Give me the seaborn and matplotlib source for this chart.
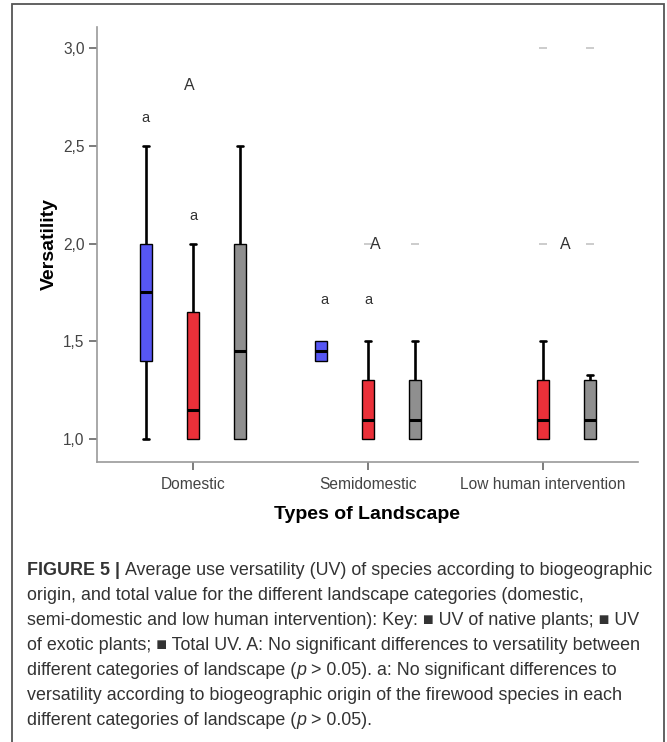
import numpy as np
import pandas as pd
import matplotlib
matplotlib.use("Agg")
import matplotlib.pyplot as plt
from matplotlib import font_manager as fm
from matplotlib.patches import Rectangle
import seaborn as sns

# ---------------- data ----------------
categories = ["Domestic", "Semidomestic", "Low human intervention"]
origins = ["Native", "Exotic", "Total"]
palette = ["#5656f4", "#ea3039", "#8f8f8f"]

# observations (use versatility per species) for each landscape / origin
domestic_native = [1.0, 1.4, 1.75, 2.0, 2.5]
domestic_exotic = [1.0, 1.0, 1.15, 1.65, 2.0]
domestic_total = [1.0, 1.0, 1.45, 2.0, 2.5]
semidomestic_native = [1.4, 1.4, 1.45, 1.5, 1.5]
semidomestic_exotic = [1.0, 1.0, 1.0, 1.05, 1.1, 1.2, 1.3, 1.5, 2.0]
semidomestic_total = [1.0, 1.0, 1.0, 1.05, 1.1, 1.2, 1.3, 1.5, 2.0]
low_exotic = [1.0, 1.0, 1.0, 1.0, 1.0, 1.05, 1.1, 1.2, 1.25, 1.3, 1.5, 2.0, 3.0]
low_total = [1.0, 1.0, 1.0, 1.0, 1.0, 1.05, 1.1, 1.2, 1.25, 1.3, 1.33, 2.0, 3.0]

ytick_values = [1.0, 1.5, 2.0, 2.5, 3.0]
ytick_labels = ["1,0", "1,5", "2,0", "2,5", "3,0"]

# significance letters: text, category index, offset within group, value
annot_text = ["a", "A", "a", "a", "a", "A", "A"]
annot_cat = [0, 0, 0, 1, 1, 1, 2]
annot_dx = [-0.27, -0.02, 0.0, -0.25, 0.0, 0.04, 0.13]
annot_y = [2.64, 2.81, 2.14, 1.71, 1.71, 1.995, 1.995]

caption_lines = [
    [("FIGURE 5 | ", "bold", "normal"),
     ("Average use versatility (UV) of species according to biogeographic", "normal", "normal")],
    [("origin, and total value for the different landscape categories (domestic,", "normal", "normal")],
    [("semi-domestic and low human intervention): Key: \u25A0 UV of native plants; \u25A0 UV", "normal", "normal")],
    [("of exotic plants; \u25A0 Total UV. A: No significant differences to versatility between", "normal", "normal")],
    [("different categories of landscape (", "normal", "normal"), ("p ", "normal", "italic"),
     ("> 0.05). a: No significant differences to", "normal", "normal")],
    [("versatility according to biogeographic origin of the firewood species in each", "normal", "normal")],
    [("different categories of landscape (", "normal", "normal"), ("p ", "normal", "italic"),
     ("> 0.05).", "normal", "normal")],
]

# ---------------- build table ----------------
groups = [
    ("Domestic", "Native", domestic_native),
    ("Domestic", "Exotic", domestic_exotic),
    ("Domestic", "Total", domestic_total),
    ("Semidomestic", "Native", semidomestic_native),
    ("Semidomestic", "Exotic", semidomestic_exotic),
    ("Semidomestic", "Total", semidomestic_total),
    ("Low human intervention", "Exotic", low_exotic),
    ("Low human intervention", "Total", low_total),
]
rows = []
for land, orig, vals in groups:
    for v in vals:
        rows.append({"Landscape": land, "Origin": orig, "Versatility": v})
df = pd.DataFrame(rows)

# ---------------- style ----------------
sns.set_style("white")
plt.rcParams["font.family"] = ["Liberation Sans", "DejaVu Sans"]

W, H = 667, 742
fig = plt.figure(figsize=(W / 100, H / 100), dpi=100)
ax = fig.add_axes([97 / W, 1 - 462 / H, (638 - 97) / W, (462 - 27) / H])

sns.boxplot(
    data=df, x="Landscape", y="Versatility", hue="Origin",
    order=categories, hue_order=origins, palette=palette,
    width=0.807, gap=0.745, dodge=True, saturation=1,
    linecolor="black", linewidth=1.0,
    whiskerprops=dict(linewidth=1.9),
    capprops=dict(linewidth=1.9),
    medianprops=dict(linewidth=2.2, color="black"),
    flierprops=dict(marker="_", markersize=6, markeredgecolor="#c4c4c4",
                    markerfacecolor="#c4c4c4", markeredgewidth=1.2),
    legend=False, ax=ax,
)

# hide caps that sit on zero-length whiskers (SPSS draws none there)
lines = list(ax.lines)
zero_pts = []
for ln in lines:
    xd, yd = np.asarray(ln.get_xdata(), float), np.asarray(ln.get_ydata(), float)
    if len(xd) == 2 and np.isclose(xd[0], xd[1]) and np.isclose(yd[0], yd[1]):
        zero_pts.append((xd[0], yd[0]))
for ln in lines:
    xd, yd = np.asarray(ln.get_xdata(), float), np.asarray(ln.get_ydata(), float)
    if len(xd) == 2 and not np.isclose(xd[0], xd[1]) and np.isclose(yd[0], yd[1]):
        cx = xd.mean()
        for zx, zy in zero_pts:
            if np.isclose(cx, zx) and np.isclose(yd[0], zy):
                ln.set_visible(False)

for t, c, dx, yv in zip(annot_text, annot_cat, annot_dx, annot_y):
    ax.text(c + dx, yv, t, ha="center", va="center",
            fontsize=10.5 if t == "a" else 11.5, color="#333333")

ax.set_xlim(-0.549, 2.543)
ax.set_ylim(0.883, 3.107)
ax.set_yticks(ytick_values)
ax.set_yticklabels(ytick_labels)
ax.set_xlabel("Types of Landscape", fontsize=14, fontweight="bold", color="black", labelpad=10)
ax.set_ylabel("Versatility", fontsize=14, fontweight="bold", color="black", labelpad=4)
for s in ["top", "right"]:
    ax.spines[s].set_visible(False)
for s in ["left", "bottom"]:
    ax.spines[s].set_color("#9a9a9a")
    ax.spines[s].set_linewidth(1.2)
ax.tick_params(axis="both", direction="out", length=6, width=1.2, color="#666666",
               labelcolor="#444444", labelsize=11.2, pad=3, bottom=True, left=True)
ax.tick_params(axis="x", pad=5)

# ---------------- outer frame ----------------
fig.add_artist(Rectangle((12 / W, -0.02), (664 - 12) / W, 1.02 - 4 / H,
                         transform=fig.transFigure, fill=False,
                         edgecolor="#555555", linewidth=1.3))

# ---------------- caption ----------------
def has_font(name):
    try:
        fm.findfont(fm.FontProperties(family=name), fallback_to_default=False)
        return True
    except Exception:
        return False

cap_family = "Liberation Sans Narrow" if has_font("Liberation Sans Narrow") else "Liberation Sans"
cap_fams = [cap_family, "DejaVu Sans"]
renderer = fig.canvas.get_renderer()


def seg_width(s, size, weight, style):
    core = s.rstrip(" ")
    ntrail = len(s) - len(core)
    t = fig.text(0, 0, core, fontsize=size, fontweight=weight, fontstyle=style, family=cap_fams)
    w = t.get_window_extent(renderer).width if core else 0
    t.remove()
    if ntrail:
        t1 = fig.text(0, 0, "a a", fontsize=size, fontweight=weight, fontstyle=style, family=cap_fams)
        t2 = fig.text(0, 0, "aa", fontsize=size, fontweight=weight, fontstyle=style, family=cap_fams)
        sp = t1.get_window_extent(renderer).width - t2.get_window_extent(renderer).width
        t1.remove(); t2.remove()
        w += ntrail * sp
    return w


def line_width(line, size):
    return sum(seg_width(s, size, w, st) for s, w, st in line)

trial = 12.0
target = 652 - 27
size = trial * target / line_width(caption_lines[0], trial)

y0 = 575
dy = 25
for i, line in enumerate(caption_lines):
    x = 27
    ypx = y0 + i * dy
    for s, w, st in line:
        fig.text(x / W, 1 - ypx / H, s, fontsize=size, fontweight=w, fontstyle=st,
                 family=cap_fams, color="#333333", ha="left", va="baseline")
        x += seg_width(s, size, w, st)

fig.savefig("out.png", dpi=100)
